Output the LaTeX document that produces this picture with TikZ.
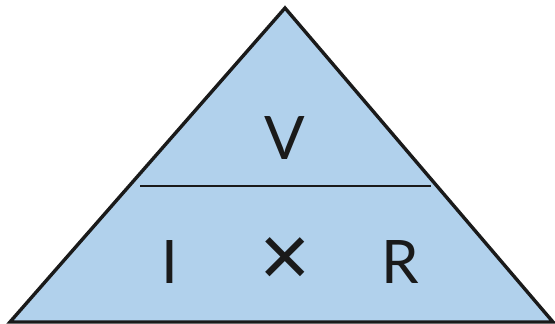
\documentclass[tikz,border=0pt]{standalone}
\usepackage{fontspec}
\setmainfont{Lato}
\newfontfamily\timesfont{Liberation Sans}
\usetikzlibrary{positioning}
\definecolor{triblue}{HTML}{B1D1EC}
\definecolor{ink}{HTML}{1A1A1A}

\begin{document}
\begin{tikzpicture}[
  x=1pt, y=1pt,
  sym/.style={font=\fontsize{60}{60}\selectfont, text=ink, inner sep=0pt}
]
  \useasboundingbox (0,0) rectangle (555,324);

  % Triangle
  \coordinate (apex) at (285,316);
  \coordinate (bl) at (10,2);
  \coordinate (br) at (553,2);
  \draw[fill=triblue, draw=ink, line width=3.4pt, line join=miter] (bl) -- (apex) -- (br) -- cycle;

  % Divider
  \coordinate (divl) at (140,138);
  \coordinate (divr) at (431,138);
  \draw[draw=ink, line width=2.8pt] (divl) -- (divr);

  % Symbols
  \node[sym] (v) at (285,186) {V};
  \node[sym] (i) at (170,62) {I};
  \node[sym, font=\timesfont\fontsize{88}{88}\selectfont] (times) at (285,62) {×};
  \node[sym] (r) at (400,62) {R};
\end{tikzpicture}
\end{document}
